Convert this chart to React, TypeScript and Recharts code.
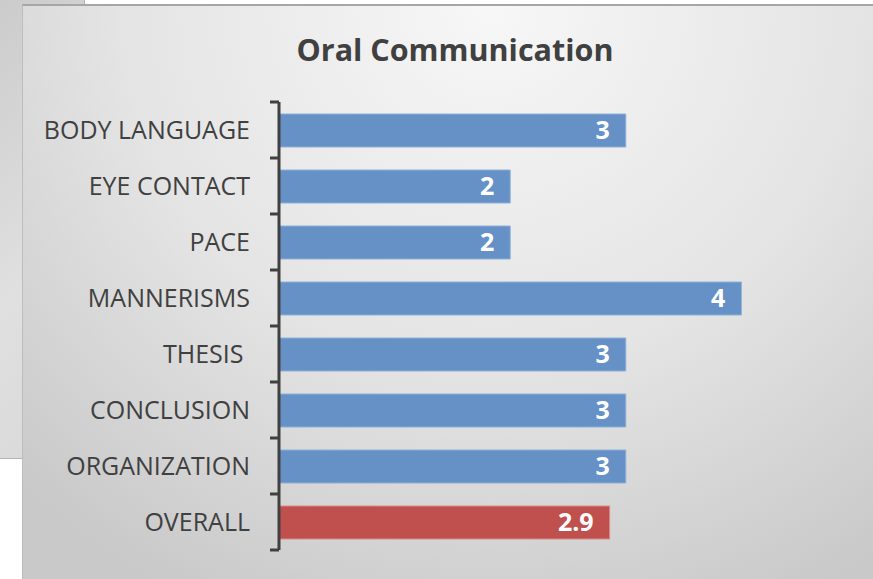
import { BarChart, Bar, XAxis, YAxis, Cell, LabelList } from 'recharts';

const categories = ['BODY LANGUAGE', 'EYE CONTACT', 'PACE', 'MANNERISMS', 'THESIS ', 'CONCLUSION', 'ORGANIZATION', 'OVERALL'];
const scores = [3, 2, 2, 4, 3, 3, 3, 2.86];
const highlight = 'OVERALL';

const W = 873;
const H = 579;
const TOP = 102;
const BOTTOM = 29;
const BAND = (H - TOP - BOTTOM) / categories.length;

const data = categories.map((name, i) => ({ name, value: scores[i] }));

const FONT = '"Open Sans", "Noto Sans", sans-serif';

function CategoryTick(props: any) {
  const { x, y, payload, index } = props;
  const axisX = x + 29;
  const last = index === categories.length - 1;
  return (
    <g>
      <text x={x} y={y} dy={9} textAnchor="end" fill="#404040" fontSize={25} fontFamily={FONT} style={{ whiteSpace: 'pre' }}>
        {payload.value}
      </text>
      <line x1={axisX - 9} x2={axisX} y1={y - BAND / 2} y2={y - BAND / 2} stroke="#404040" strokeWidth={3} />
      {last && <line x1={axisX - 9} x2={axisX} y1={y + BAND / 2} y2={y + BAND / 2} stroke="#404040" strokeWidth={3} />}
    </g>
  );
}

export default function App() {
  return (
    <div style={{ position: 'absolute', left: 0, top: 0, width: W, height: H, overflow: 'hidden', background: '#fff' }}>
      <div style={{ position: 'absolute', left: -20, top: -20, width: 103, height: 477, background: 'linear-gradient(135deg, #c9c9c9 0%, #e0e0e0 60%, #d8d8d8 100%)', border: '1px solid #b5b5b5' }} />
      <div
        style={{
          position: 'absolute',
          left: 22,
          top: 4,
          width: 900,
          height: 600,
          borderTop: '2px solid #a6a6a6',
          borderLeft: '1px solid #bdbdbd',
          background: 'radial-gradient(ellipse 75% 110% at 52% 0%, #f7f7f7 0%, #e4e4e4 55%, #c9c9c9 100%)',
        }}
      />
      <div style={{ position: 'absolute', left: 0, top: 0 }}>
        <BarChart width={W} height={H} data={data} layout="vertical" margin={{ top: TOP, right: 16, bottom: BOTTOM, left: 0 }} barSize={33}>
          <text x={455} y={61} textAnchor="middle" fill="#404040" fontSize={30.5} fontWeight={700} fontFamily={FONT}>
            Oral Communication
          </text>
          <XAxis type="number" domain={[0, 5]} hide />
          <YAxis
            type="category"
            dataKey="name"
            width={279}
            tickLine={false}
            tickSize={9}
            tickMargin={20}
            axisLine={{ stroke: '#404040', strokeWidth: 3 }}
            tick={<CategoryTick />}
            interval={0}
          />
          <Bar dataKey="value" isAnimationActive={false} stroke="#8fb0d8" strokeWidth={1}>
            {data.map((d) => (
              <Cell key={d.name} fill={d.name === highlight ? '#c0504d' : '#6591c6'} stroke={d.name === highlight ? '#d98a88' : '#8fb0d8'} />
            ))}
            <LabelList
              dataKey="value"
              position="insideRight"
              offset={16}
              fill="#ffffff"
              fontSize={25}
              fontWeight={700}
              fontFamily={FONT}
              formatter={(v: any) => (Number.isInteger(v) ? String(v) : Number(v).toFixed(1))}
            />
          </Bar>
        </BarChart>
      </div>
    </div>
  );
}
